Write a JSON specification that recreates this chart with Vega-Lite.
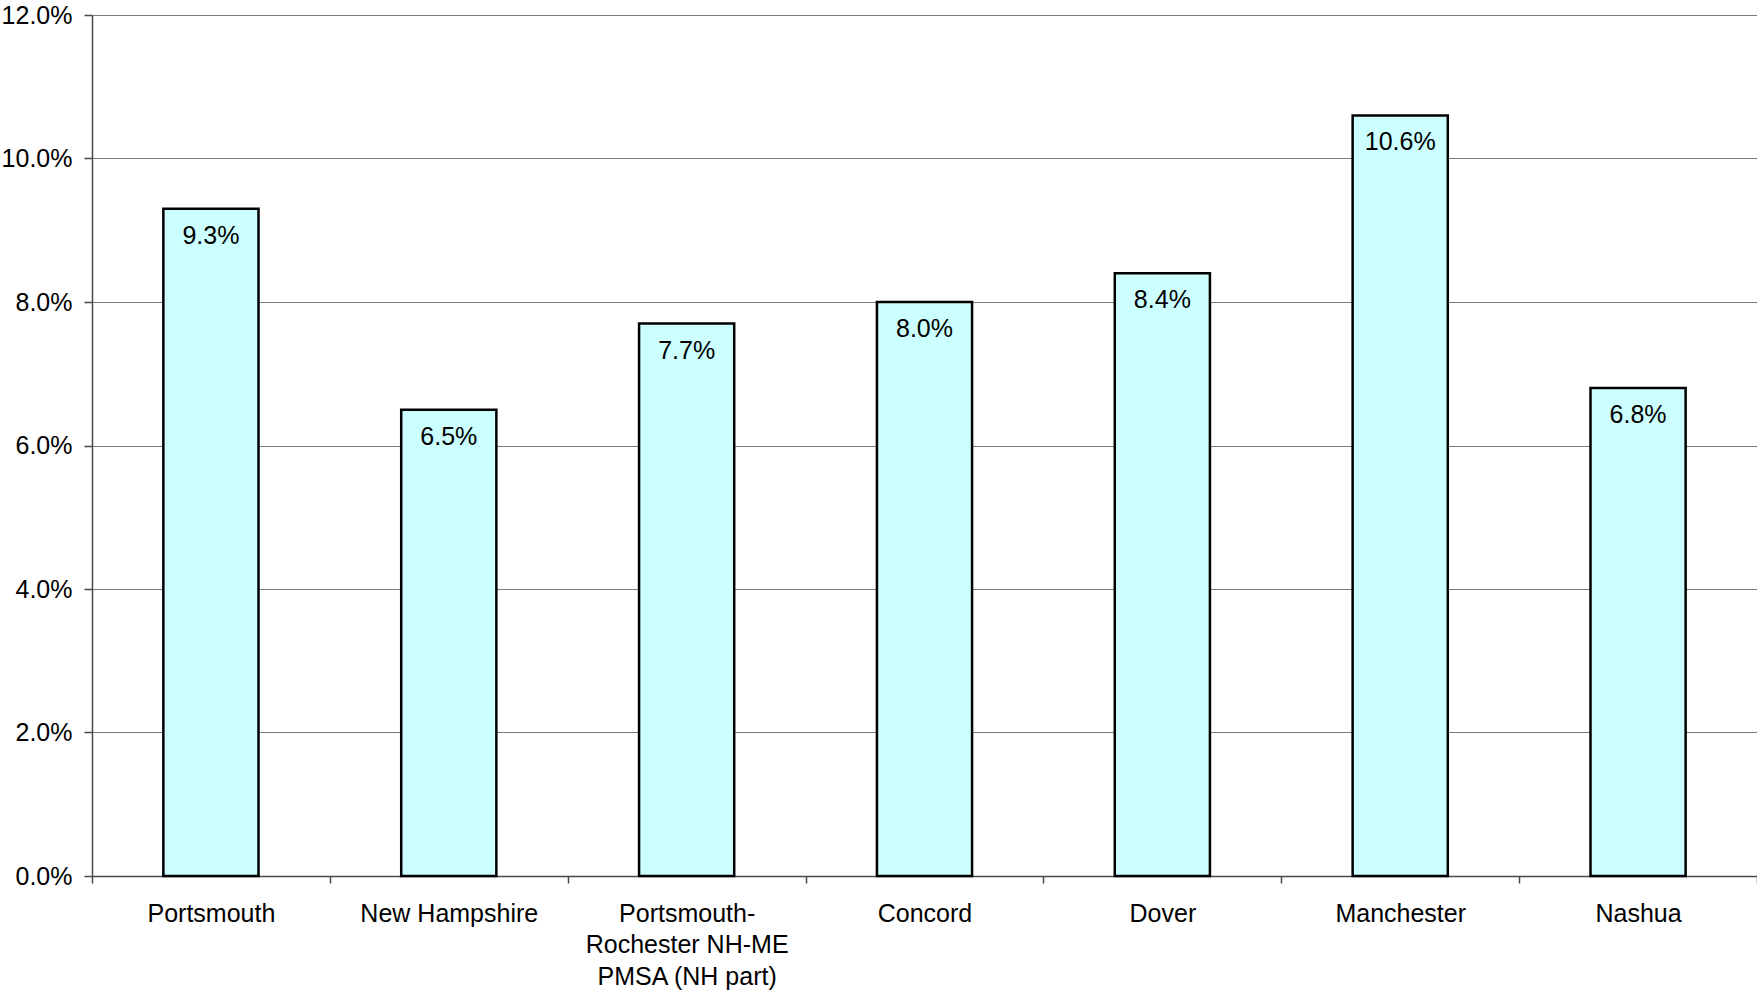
{
  "$schema": "https://vega.github.io/schema/vega-lite/v6.json",
  "width": 1665,
  "height": 861,
  "autosize": {"type": "none"},
  "padding": {"left": 92, "top": 15, "right": 0, "bottom": 114},
  "background": "white",
  "config": {
    "view": {"stroke": null},
    "font": "Liberation Sans",
    "axis": {
      "labelFont": "Liberation Sans",
      "labelFontSize": 25,
      "labelColor": "black",
      "labelLimit": 0,
      "domainColor": "#4a4a4a",
      "domainWidth": 1.5,
      "tickColor": "#4a4a4a",
      "tickWidth": 1.5,
      "gridColor": "#7a7a7a",
      "gridWidth": 1.2
    }
  },
  "data": {
    "values": [
      {"area": "Portsmouth", "rate": 0.093},
      {"area": "New Hampshire", "rate": 0.065},
      {"area": "Portsmouth-|Rochester NH-ME|PMSA (NH part)", "rate": 0.077},
      {"area": "Concord", "rate": 0.080},
      {"area": "Dover", "rate": 0.084},
      {"area": "Manchester", "rate": 0.106},
      {"area": "Nashua", "rate": 0.068}
    ]
  },
  "encoding": {
    "x": {
      "field": "area",
      "type": "nominal",
      "sort": null,
      "scale": {"paddingInner": 0, "paddingOuter": 0},
      "axis": {
        "title": null,
        "labelAngle": 0,
        "labelExpr": "split(datum.label, '|')",
        "labelLineHeight": 31.5,
        "labelPadding": 18,
        "tickSize": 7,
        "tickBand": "extent",
        "grid": false
      }
    },
    "y": {
      "field": "rate",
      "type": "quantitative",
      "scale": {"domain": [0, 0.12], "nice": false},
      "axis": {
        "title": null,
        "format": ".1%",
        "values": [0, 0.02, 0.04, 0.06, 0.08, 0.1, 0.12],
        "tickSize": 8,
        "labelPadding": 12,
        "grid": true
      }
    }
  },
  "layer": [
    {
      "mark": {"type": "bar", "width": {"band": 0.4}, "fill": "#CCFFFF", "stroke": "black", "strokeWidth": 2.5}
    },
    {
      "mark": {
        "type": "text",
        "baseline": "alphabetic",
        "align": "center",
        "dy": 35,
        "fontSize": 25,
        "font": "Liberation Sans",
        "color": "black"
      },
      "encoding": {
        "text": {"field": "rate", "type": "quantitative", "format": ".1%"}
      }
    }
  ]
}
